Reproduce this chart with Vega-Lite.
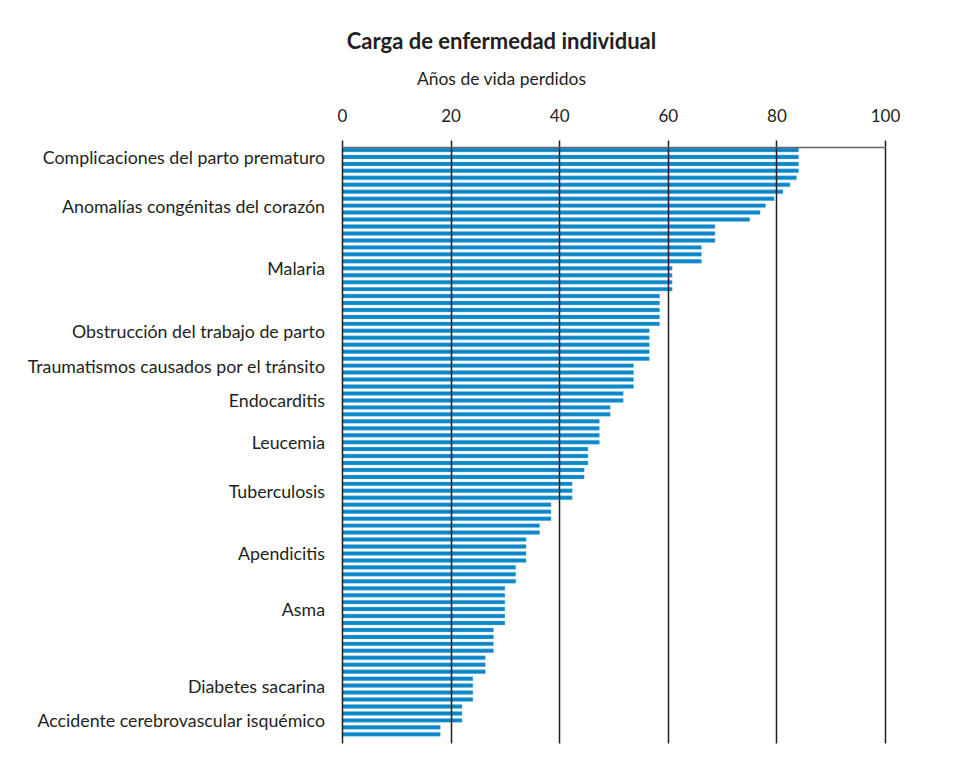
{
  "$schema": "https://vega.github.io/schema/vega-lite/v6.json",
  "autosize": {"type": "none"},
  "padding": {"left": 342, "top": 147, "right": 94, "bottom": 38},
  "width": 543,
  "height": 596,
  "background": "white",
  "title": {
    "text": "Carga de enfermedad individual",
    "subtitle": "Años de vida perdidos",
    "anchor": "middle",
    "frame": "group",
    "dx": -112,
    "offset": 18,
    "font": "Lato",
    "fontSize": 22,
    "fontWeight": "bold",
    "color": "#231f20",
    "subtitleFont": "Lato",
    "subtitleFontSize": 17.5,
    "subtitleColor": "#231f20",
    "subtitlePadding": 17
  },
  "config": {
    "view": {"stroke": null},
    "font": "Lato"
  },
  "data": {
    "values": [
      {"id": 1, "value": 84.1, "label": ""},
      {"id": 2, "value": 84.1, "label": "Complicaciones del parto prematuro"},
      {"id": 3, "value": 84.1, "label": ""},
      {"id": 4, "value": 84.1, "label": ""},
      {"id": 5, "value": 83.7, "label": ""},
      {"id": 6, "value": 82.5, "label": ""},
      {"id": 7, "value": 81.2, "label": ""},
      {"id": 8, "value": 79.6, "label": ""},
      {"id": 9, "value": 78.0, "label": "Anomalías congénitas del corazón"},
      {"id": 10, "value": 77.0, "label": ""},
      {"id": 11, "value": 75.1, "label": ""},
      {"id": 12, "value": 68.7, "label": ""},
      {"id": 13, "value": 68.7, "label": ""},
      {"id": 14, "value": 68.7, "label": ""},
      {"id": 15, "value": 66.2, "label": ""},
      {"id": 16, "value": 66.2, "label": ""},
      {"id": 17, "value": 66.2, "label": ""},
      {"id": 18, "value": 60.8, "label": "Malaria"},
      {"id": 19, "value": 60.8, "label": ""},
      {"id": 20, "value": 60.8, "label": ""},
      {"id": 21, "value": 60.8, "label": ""},
      {"id": 22, "value": 58.5, "label": ""},
      {"id": 23, "value": 58.5, "label": ""},
      {"id": 24, "value": 58.5, "label": ""},
      {"id": 25, "value": 58.5, "label": ""},
      {"id": 26, "value": 58.5, "label": ""},
      {"id": 27, "value": 56.6, "label": "Obstrucción del trabajo de parto"},
      {"id": 28, "value": 56.6, "label": ""},
      {"id": 29, "value": 56.6, "label": ""},
      {"id": 30, "value": 56.6, "label": ""},
      {"id": 31, "value": 56.6, "label": ""},
      {"id": 32, "value": 53.7, "label": "Traumatismos causados por el tránsito"},
      {"id": 33, "value": 53.7, "label": ""},
      {"id": 34, "value": 53.7, "label": ""},
      {"id": 35, "value": 53.7, "label": ""},
      {"id": 36, "value": 51.8, "label": ""},
      {"id": 37, "value": 51.8, "label": "Endocarditis"},
      {"id": 38, "value": 49.4, "label": ""},
      {"id": 39, "value": 49.4, "label": ""},
      {"id": 40, "value": 47.4, "label": ""},
      {"id": 41, "value": 47.4, "label": ""},
      {"id": 42, "value": 47.4, "label": ""},
      {"id": 43, "value": 47.4, "label": "Leucemia"},
      {"id": 44, "value": 45.3, "label": ""},
      {"id": 45, "value": 45.3, "label": ""},
      {"id": 46, "value": 45.3, "label": ""},
      {"id": 47, "value": 44.6, "label": ""},
      {"id": 48, "value": 44.6, "label": ""},
      {"id": 49, "value": 42.4, "label": ""},
      {"id": 50, "value": 42.4, "label": "Tuberculosis"},
      {"id": 51, "value": 42.4, "label": ""},
      {"id": 52, "value": 38.5, "label": ""},
      {"id": 53, "value": 38.5, "label": ""},
      {"id": 54, "value": 38.5, "label": ""},
      {"id": 55, "value": 36.4, "label": ""},
      {"id": 56, "value": 36.4, "label": ""},
      {"id": 57, "value": 33.9, "label": ""},
      {"id": 58, "value": 33.9, "label": ""},
      {"id": 59, "value": 33.9, "label": "Apendicitis"},
      {"id": 60, "value": 33.9, "label": ""},
      {"id": 61, "value": 32.0, "label": ""},
      {"id": 62, "value": 32.0, "label": ""},
      {"id": 63, "value": 32.0, "label": ""},
      {"id": 64, "value": 30.0, "label": ""},
      {"id": 65, "value": 30.0, "label": ""},
      {"id": 66, "value": 30.0, "label": ""},
      {"id": 67, "value": 30.0, "label": "Asma"},
      {"id": 68, "value": 30.0, "label": ""},
      {"id": 69, "value": 30.0, "label": ""},
      {"id": 70, "value": 27.9, "label": ""},
      {"id": 71, "value": 27.9, "label": ""},
      {"id": 72, "value": 27.9, "label": ""},
      {"id": 73, "value": 27.9, "label": ""},
      {"id": 74, "value": 26.4, "label": ""},
      {"id": 75, "value": 26.4, "label": ""},
      {"id": 76, "value": 26.4, "label": ""},
      {"id": 77, "value": 24.1, "label": ""},
      {"id": 78, "value": 24.1, "label": "Diabetes sacarina"},
      {"id": 79, "value": 24.1, "label": ""},
      {"id": 80, "value": 24.1, "label": ""},
      {"id": 81, "value": 22.1, "label": ""},
      {"id": 82, "value": 22.1, "label": ""},
      {"id": 83, "value": 22.1, "label": "Accidente cerebrovascular isquémico"},
      {"id": 84, "value": 18.1, "label": ""},
      {"id": 85, "value": 18.1, "label": ""}
    ]
  },
  "encoding": {
    "y": {
      "field": "id",
      "type": "ordinal",
      "axis": null,
      "scale": {"type": "band", "paddingInner": 0.43, "paddingOuter": 0.555, "align": 0.13}
    }
  },
  "layer": [
    {
      "mark": {"type": "bar", "color": "#0b87c8", "stroke": "#7fc0e8", "strokeWidth": 0.4},
      "encoding": {
        "x": {
          "field": "value",
          "type": "quantitative",
          "scale": {"domain": [0, 100], "nice": false},
          "axis": {
            "orient": "top",
            "values": [0, 20, 40, 60, 80, 100],
            "title": null,
            "zindex": 1,
            "domain": true,
            "domainColor": "#666666",
            "domainWidth": 1.5,
            "ticks": true,
            "tickSize": 7,
            "tickColor": "#231f20",
            "tickWidth": 1.5,
            "grid": true,
            "gridColor": "#231f20",
            "gridWidth": 1.5,
            "gridOpacity": 1,
            "labelFont": "Lato",
            "labelFontSize": 17,
            "labelColor": "#231f20",
            "labelPadding": 15,
            "labelFlush": false
          }
        }
      }
    },
    {
      "transform": [{"filter": "datum.label != ''"}],
      "mark": {"type": "text", "align": "right", "baseline": "middle", "dx": -17, "dy": 2, "font": "Lato", "fontSize": 17.8, "color": "#231f20"},
      "encoding": {
        "x": {"datum": 0},
        "text": {"field": "label"}
      }
    }
  ]
}
